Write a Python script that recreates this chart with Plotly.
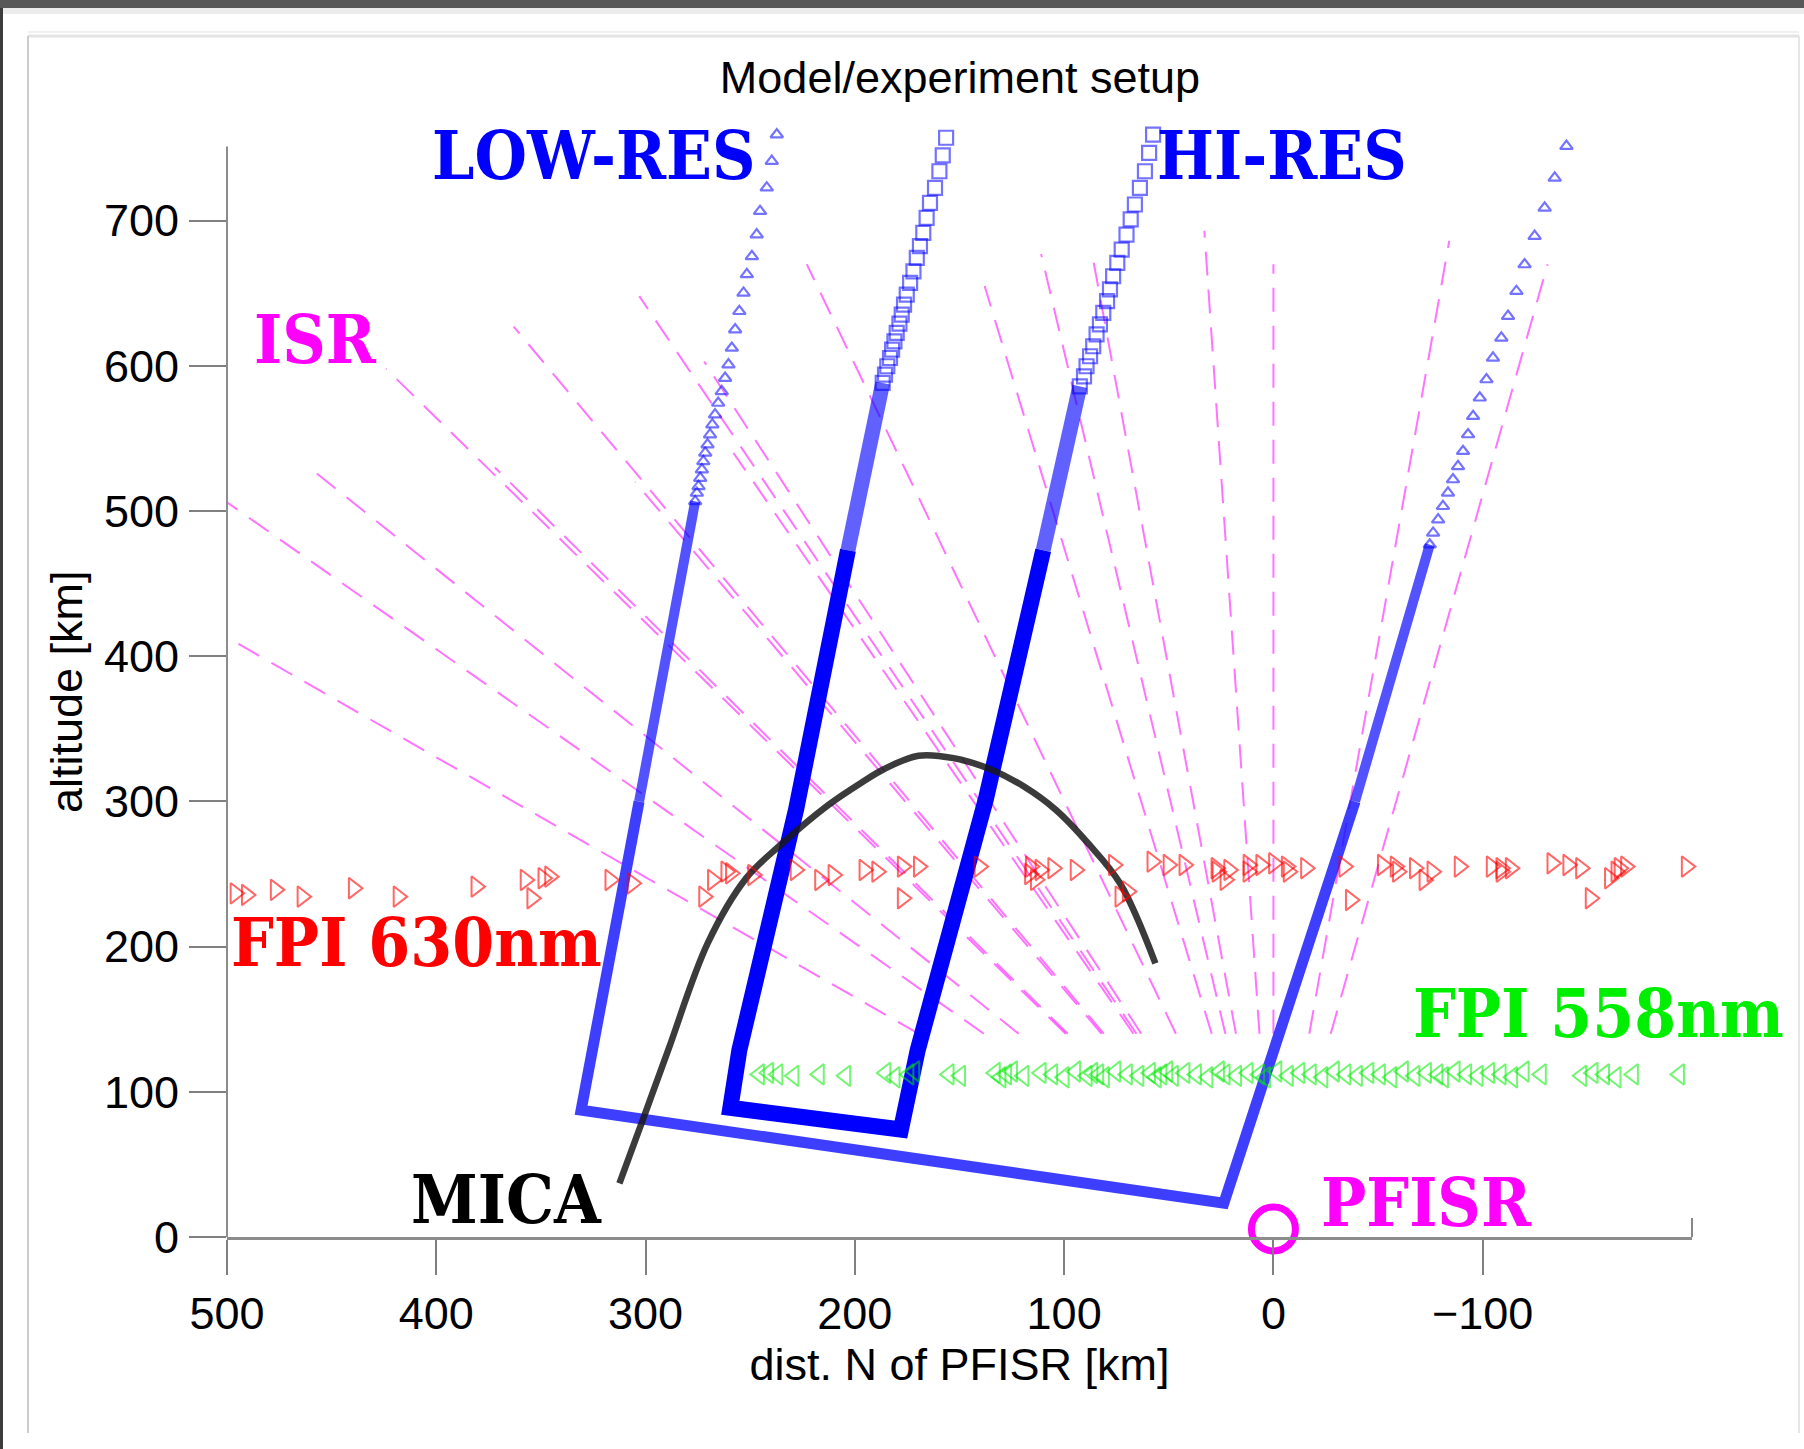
import plotly.graph_objects as go

# ---------------- data ----------------
# LOW-RES grid: sparse upper markers along the two bounding field lines
lowres_left_x = [237.3, 239.7, 242.1, 245.3, 246.9, 249.2, 251.6, 253.2, 255.2, 257.2, 258.8, 260.4,
                 262.0, 263.6, 265.3, 266.8, 268.1, 269.2, 270.4, 271.5, 272.4, 273.1, 273.9, 274.7,
                 275.5, 276.3]
lowres_left_alt = [759.3, 741.0, 722.7, 706.5, 690.4, 675.4, 663.0, 650.2, 637.6, 625.0, 612.3, 600.8,
                   591.6, 582.4, 574.4, 566.4, 559.5, 552.6, 545.7, 540.0, 534.2, 528.5, 522.7, 517.0,
                   512.4, 506.6]
lowres_right_x = [-140.0, -134.4, -129.6, -124.8, -120.0, -116.1, -112.1, -108.9, -104.9, -101.8, -98.6,
                  -95.4, -93.0, -90.6, -88.2, -85.8, -83.4, -81.0, -78.7, -76.3, -74.7]
lowres_right_alt = [751.3, 729.5, 708.8, 689.3, 669.8, 651.4, 634.2, 619.3, 605.5, 590.6, 578.0,
                    565.3, 552.7, 541.2, 530.8, 521.7, 512.5, 503.3, 494.1, 484.9, 476.8]
# LOW-RES grid: densely sampled boundary, upper (overlapping markers) and lower (solid) parts
lowres_mid_x = [[276.3, 303.1], [-39.0, -74.7]]
lowres_mid_alt = [[506.6, 300.0], [300.0, 476.8]]
lowres_low_x = [303.1, 325.5, 330.8, 23.7, 0.0, -39.0]
lowres_low_alt = [300.0, 128.6, 87.3, 23.3, 128.6, 300.0]

# HI-RES grid: sparse upper markers
hires_left_x = [156.4, 158.0, 159.6, 161.7, 164.1, 165.7, 167.3, 168.9, 170.4, 172.0, 173.6, 175.2,
                176.5, 177.6, 178.7, 180.0, 181.1, 182.2, 183.2, 184.5, 185.6, 186.7]
hires_left_alt = [757.1, 744.9, 734.0, 722.6, 712.3, 701.9, 691.6, 682.4, 674.4, 665.1, 657.1, 649.1,
                  642.2, 635.3, 629.1, 622.7, 616.9, 611.2, 605.4, 599.7, 593.9, 588.2]
hires_right_x = [57.5, 59.4, 61.4, 63.8, 66.2, 68.2, 70.2, 72.5, 74.6, 76.6, 78.1, 79.5, 81.3, 82.9,
                 84.5, 86.1, 87.6, 89.3, 90.5, 92.5]
hires_right_alt = [759.3, 746.7, 734.0, 722.6, 711.1, 700.8, 690.4, 680.1, 670.9, 661.7, 652.6, 644.5,
                   636.5, 628.5, 621.6, 613.5, 606.6, 599.7, 592.8, 585.9]
# HI-RES grid: densely sampled boundary
hires_mid_x = [[186.7, 203.3], [110.0, 92.5]]
hires_mid_alt = [[588.2, 473.0], [473.0, 585.9]]
hires_low_x = [203.3, 228.0, 255.2, 259.5, 178.0, 170.0, 137.5, 110.0]
hires_low_alt = [473.0, 295.0, 128.6, 89.0, 74.0, 128.6, 301.0, 473.0]

# ISR beams: upper end of each beam (each beam points back to PFISR)
isr_top_x = [500, 500, 459, 424, 372, 363, 305, 303, 258, 272, 223, 138, 111, 87, 33, 0, -84, -131]
isr_top_alt = [413, 506, 528, 598, 530, 627, 520, 648, 540, 603, 670, 655, 677, 680, 693, 670, 686, 670]
isr_bottom_alt = [140, 140, 140, 140, 140, 140, 140, 140, 140, 140, 140, 140, 140, 140, 140, 140, 140,
                  140]

# MICA rocket trajectory
mica_x = [312.5, 300.8, 289.2, 270.3, 252.0, 235.7, 212.6, 196.2, 186.4, 169.6, 152.8, 134.4, 119.2,
          103.9, 88.6, 73.3, 56.4]
mica_alt = [36.9, 82.8, 128.7, 202.4, 247.0, 269.8, 297.6, 313.5, 322.0, 331.5, 329.8, 321.7, 310.2,
            294.1, 271.2, 243.6, 188.5]

# FPI 630 nm look points
fpi630_x = [496.1, 490.7, 476.9, 464.1, 439.6, 418.2, 381.0, 357.5, 354.3, 349.0, 345.8, 317.0, 306.4,
            272.2, 268.0, 261.6, 259.4, 248.8, 228.5, 216.8, 210.4, 195.6, 189.5, 177.3, 169.6, 177.3,
            140.6, 116.5, 116.1, 113.7, 111.5, 105.4, 94.7, 76.4, 73.3, 69.8, 58.0, 50.3, 42.7, 27.4,
            26.9, 23.1, 21.3, 12.1, 12.1, 6.0, -0.1, -6.2, -7.1, -15.4, -33.7, -36.8, -52.1, -58.2,
            -59.3, -67.4, -72.0, -75.8, -88.8, -104.1, -108.7, -108.8, -113.2, -133.1, -140.7, -146.8,
            -151.4, -160.6, -163.7, -165.2, -168.3, -197.3]
fpi630_alt = [236.7, 235.6, 239.1, 234.4, 240.2, 234.4, 241.3, 245.9, 233.3, 247.1, 248.2, 245.9, 243.6,
              234.4, 245.9, 251.6, 250.5, 249.3, 252.8, 245.9, 249.3, 252.8, 251.6, 255.1, 255.1, 233.3,
              255.1, 250.0, 255.1, 246.0, 252.8, 254.0, 252.8, 256.2, 234.4, 238.0, 258.5, 256.2, 256.2,
              254.0, 251.6, 246.0, 252.8, 256.2, 251.6, 256.2, 257.4, 255.1, 251.6, 254.0, 255.1, 232.1,
              256.2, 255.1, 251.6, 254.0, 245.9, 251.6, 255.1, 255.1, 254.0, 251.6, 254.0, 257.4, 256.2,
              254.0, 233.3, 247.1, 251.6, 254.0, 255.1, 255.1]

# FPI 558 nm look points
fpi558_x = [245.6, 241.2, 236.8, 229.1, 217.0, 204.4, 185.2, 180.8, 174.2, 171.4, 155.0, 149.5, 132.9,
            130.2, 127.5, 124.7, 119.2, 111.0, 105.5, 100.0, 94.5, 89.0, 86.3, 83.5, 80.8, 75.3, 69.8,
            64.3, 58.8, 56.0, 53.3, 50.5, 47.8, 42.3, 36.8, 31.3, 25.8, 23.1, 17.6, 12.1, 6.6, 3.8, -1.6,
            -7.1, -12.6, -18.1, -23.6, -29.1, -34.6, -40.1, -45.6, -51.1, -56.6, -62.1, -67.6, -73.1,
            -78.6, -81.3, -86.8, -92.3, -97.8, -103.3, -108.8, -114.3, -119.8, -128.0, -147.3, -152.7,
            -158.2, -163.7, -172.0, -194.0]
fpi558_alt = [112, 113, 112, 111, 112, 111, 113, 110, 112, 114, 112, 111, 113, 110, 112, 114, 111, 113,
              112, 110, 114, 111, 113, 112, 110, 114, 112, 111, 113, 110, 112, 114, 111, 113, 112, 110,
              114, 112, 111, 113, 112, 110, 114, 111, 113, 112, 110, 114, 112, 111, 113, 112, 110, 114,
              111, 113, 112, 110, 114, 112, 111, 113, 112, 110, 114, 112, 111, 113, 112, 110, 112, 112]

pfisr_x = [0.0]
pfisr_alt = [5.5]

x_ticks = [500, 400, 300, 200, 100, 0, -100]
y_ticks = [0, 100, 200, 300, 400, 500, 600, 700]
y_axis_top = 751

# ---------------- layout geometry ----------------
W, H = 1804, 1449
ML, MR, MT, MB = 227, 112, 119, 212
Y_MAX = 770


def px_x(px):
    return (px - ML) / (W - ML - MR)


def px_y(py):
    return (H - MB - py) / (H - MT - MB)


SANS = "Liberation Sans, Arial, Helvetica, sans-serif"
SERIF = "DejaVu Serif Condensed, DejaVu Serif, serif"
AXIS_GREY = "#8c8c8c"

fig = go.Figure()

# ISR beams, dashed magenta, from the lower altitude limit up to the beam end
bx, by = [], []
for xt, at, ab in zip(isr_top_x, isr_top_alt, isr_bottom_alt):
    bx += [xt * ab / at, xt, None]
    by += [ab, at, None]
fig.add_trace(go.Scatter(x=bx, y=by, mode="lines",
                         line=dict(color="rgba(255,0,255,0.55)", width=2, dash="24px,14px"),
                         hoverinfo="skip"))


def add_grid(mid_x, mid_alt, low_x, low_alt, sparse, symbol, msize, mid_w, mid_col, low_w, low_col):
    for mx, ma in zip(mid_x, mid_alt):
        fig.add_trace(go.Scatter(x=mx, y=ma, mode="lines",
                                 line=dict(color=mid_col, width=mid_w), hoverinfo="skip"))
    fig.add_trace(go.Scatter(x=low_x, y=low_alt, mode="lines",
                             line=dict(color=low_col, width=low_w), hoverinfo="skip"))
    for gx, ga in sparse:
        fig.add_trace(go.Scatter(x=gx, y=ga, mode="markers", cliponaxis=False,
                                 marker=dict(symbol=symbol, size=msize, color="rgba(0,0,255,0.55)",
                                             line=dict(width=2.2)),
                                 hoverinfo="skip"))


# LOW-RES grid (triangles)
add_grid(lowres_mid_x, lowres_mid_alt, lowres_low_x, lowres_low_alt,
         ((lowres_left_x, lowres_left_alt), (lowres_right_x, lowres_right_alt)),
         "triangle-up-open", 11, 10, "rgba(0,0,255,0.68)", 11, "rgba(20,20,255,0.82)")
# HI-RES grid (squares)
add_grid(hires_mid_x, hires_mid_alt, hires_low_x, hires_low_alt,
         ((hires_left_x, hires_left_alt), (hires_right_x, hires_right_alt)),
         "square-open", 14, 15, "rgba(0,0,255,0.62)", 16, "rgba(0,0,255,1)")

# MICA trajectory
fig.add_trace(go.Scatter(x=mica_x, y=mica_alt, mode="lines",
                         line=dict(color="rgba(25,25,25,0.85)", width=6.5, shape="spline",
                                   smoothing=1.0),
                         hoverinfo="skip"))

# FPI look points
fig.add_trace(go.Scatter(x=fpi630_x, y=fpi630_alt, mode="markers", cliponaxis=False,
                         marker=dict(symbol="triangle-right-open", size=18,
                                     color="rgba(255,0,0,0.6)", line=dict(width=2)),
                         hoverinfo="skip"))
fig.add_trace(go.Scatter(x=fpi558_x, y=fpi558_alt, mode="markers", cliponaxis=False,
                         marker=dict(symbol="triangle-left-open", size=18,
                                     color="rgba(0,235,0,0.55)", line=dict(width=2)),
                         hoverinfo="skip"))

# PFISR location
fig.add_trace(go.Scatter(x=pfisr_x, y=pfisr_alt, mode="markers", cliponaxis=False,
                         marker=dict(symbol="circle-open", size=44, color="#ff00ff",
                                     line=dict(width=7)),
                         hoverinfo="skip"))

labels = [
    ("LOW-RES", 246.2, 744.9, "right", "#0000ff"),
    ("HI-RES", 56.5, 745.2, "left", "#0000ff"),
    ("ISR", 488.1, 618.1, "left", "#ff00ff"),
    ("FPI 630nm", 498.9, 202.5, "left", "#ff0000"),
    ("FPI 558nm", -65.8, 154.2, "left", "#00ee00"),
    ("MICA", 320.0, 26.0, "right", "#000000"),
    ("PFISR", -21.9, 24.0, "left", "#ff00ff"),
]
for text, lx, ly, anchor, col in labels:
    fig.add_annotation(x=lx, y=ly, xref="x", yref="y", text=text, showarrow=False,
                       xanchor=anchor, yanchor="middle",
                       font=dict(family=SERIF, size=67, color=col, weight="bold"))

# y axis title, centred on the drawn part of the altitude scale
fig.add_annotation(x=px_x(66), y=px_y(692), xref="paper", yref="paper", text="altitude [km]",
                   textangle=-90, showarrow=False, xanchor="center", yanchor="middle",
                   font=dict(family=SANS, size=45, color="black"))

shapes = [
    # window frame around the figure
    dict(type="rect", xref="paper", yref="paper", x0=px_x(0), x1=px_x(W), y0=px_y(8), y1=px_y(0),
         fillcolor="#585858", line=dict(width=0)),
    dict(type="rect", xref="paper", yref="paper", x0=px_x(0), x1=px_x(W), y0=px_y(14), y1=px_y(8),
         fillcolor="#ececec", line=dict(width=0)),
    dict(type="rect", xref="paper", yref="paper", x0=px_x(0), x1=px_x(3), y0=px_y(H), y1=px_y(8),
         fillcolor="#3c3c3c", line=dict(width=0)),
    dict(type="line", xref="paper", yref="paper", x0=px_x(28), x1=px_x(1799), y0=px_y(32), y1=px_y(32),
         line=dict(color="#f0f0f0", width=2)),
    dict(type="line", xref="paper", yref="paper", x0=px_x(28), x1=px_x(1799), y0=px_y(36), y1=px_y(36),
         line=dict(color="#e4e4e4", width=3)),
    dict(type="line", xref="paper", yref="paper", x0=px_x(28), x1=px_x(28), y0=px_y(1433), y1=px_y(36),
         line=dict(color="#cccccc", width=2)),
    dict(type="line", xref="paper", yref="paper", x0=px_x(1799), x1=px_x(1799), y0=px_y(1433),
         y1=px_y(36), line=dict(color="#e6e6e6", width=2)),
    # y axis line, stopping at the top of the altitude scale
    dict(type="line", xref="paper", yref="y", x0=0, x1=0, y0=0, y1=y_axis_top,
         line=dict(color=AXIS_GREY, width=2)),
    # short end mark at the right end of the x axis
    dict(type="line", xref="paper", yref="paper", x0=1, x1=1, y0=0, y1=px_y(H - MB - 19),
         line=dict(color="#888888", width=2)),
]

fig.update_layout(
    width=W, height=H,
    margin=dict(l=ML, r=MR, t=MT, b=MB, pad=0),
    paper_bgcolor="white", plot_bgcolor="white",
    showlegend=False,
    shapes=shapes,
    title=dict(text="Model/experiment setup", x=px_x(960), xref="paper", xanchor="center",
               y=1 - 77 / H, yref="container", yanchor="middle",
               font=dict(family=SANS, size=45, color="black")),
    xaxis=dict(range=[500, -200], tickvals=x_ticks, ticks="outside", ticklen=35, tickwidth=2,
               tickcolor="#808080", showline=True, linecolor=AXIS_GREY, linewidth=3,
               showgrid=False, zeroline=False, ticklabelstandoff=0,
               tickfont=dict(family=SANS, size=45, color="black"),
               title=dict(text="dist. N of PFISR [km]", standoff=0,
                          font=dict(family=SANS, size=45, color="black"))),
    yaxis=dict(range=[0, Y_MAX], tickvals=y_ticks, ticks="outside", ticklen=37, tickwidth=2,
               tickcolor="#808080", showline=False,
               showgrid=False, zeroline=False, ticklabelstandoff=1,
               tickfont=dict(family=SANS, size=45, color="black")),
)

fig.write_html("out.html")
